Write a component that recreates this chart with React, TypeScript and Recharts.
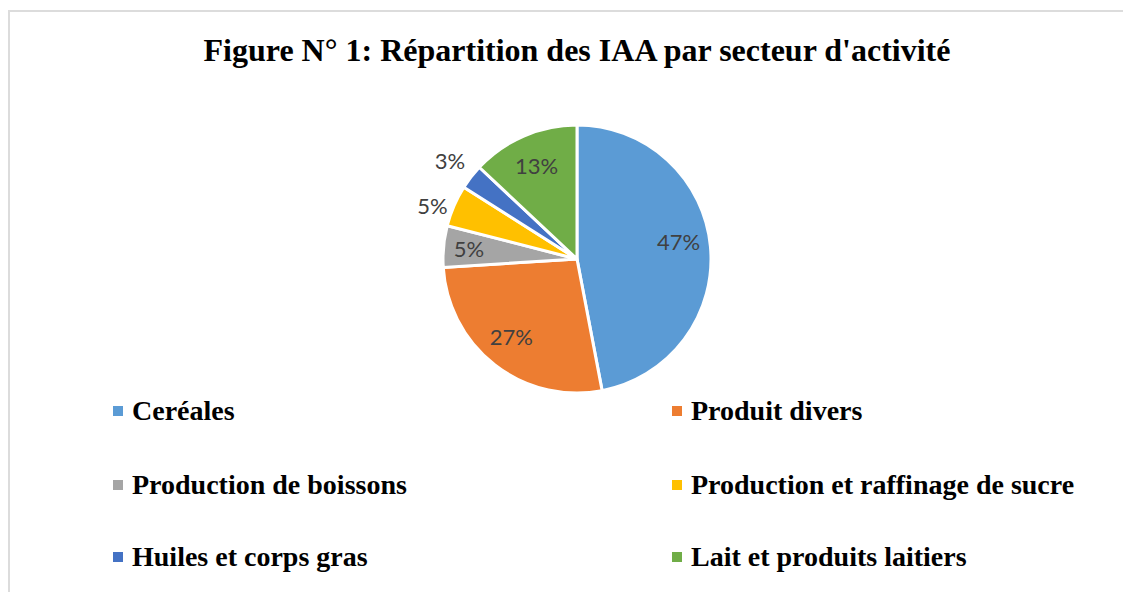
import React from "react";
import { Cell, Legend, Pie, PieChart } from "recharts";

const categories = [
  "Ceréales",
  "Produit divers",
  "Production de boissons",
  "Production et raffinage de sucre",
  "Huiles et corps gras",
  "Lait et produits laitiers",
];
const shares = [47, 27, 5, 5, 3, 13];
const colors = ["#5B9BD5", "#ED7D31", "#A5A5A5", "#FFC000", "#4472C4", "#70AD47"];
// where each percentage label sits: fraction of the radius, and a small turn off the slice middle (deg)
const labelRadius = [0.77, 0.76, 0.81, 1.15, 1.2, 0.76];
const labelTurn = [4.5, -2.4, 0, 3, 0, 0];

const data = categories.map((name, i) => ({ name, value: shares[i] }));

const RAD = Math.PI / 180;

const renderLabel = (props: any) => {
  const { cx, cy, midAngle, outerRadius, index, value } = props;
  const r = outerRadius * labelRadius[index];
  const a = midAngle + labelTurn[index];
  const x = cx + r * Math.cos(-a * RAD);
  const y = cy + r * Math.sin(-a * RAD);
  return (
    <text
      x={x}
      y={y}
      fill="#404040"
      fontSize={22}
      fontFamily="Lato, 'Open Sans', sans-serif"
      textAnchor="middle"
      dominantBaseline="central"
    >
      {`${value}%`}
    </text>
  );
};

const colX = [103, 662];
const rowY = [399, 473, 545];

const LegendContent = ({ payload }: any) => {
  if (!payload) return null;
  const items = [...payload].sort(
    (a: any, b: any) => categories.indexOf(a.value) - categories.indexOf(b.value)
  );
  return (
    <div style={{ position: "relative", width: 1121, height: 200 }}>
      {items.map((entry: any, i: number) => (
        <div
          key={entry.value}
          style={{
            position: "absolute",
            left: colX[i % 2],
            top: rowY[Math.floor(i / 2)] - 390 - 16,
            height: 32,
            display: "flex",
            alignItems: "center",
            whiteSpace: "nowrap",
          }}
        >
          <span
            style={{
              display: "inline-block",
              width: 10,
              height: 10,
              background: entry.color,
              marginRight: 9,
            }}
          />
          <span
            style={{
              fontFamily: "'Liberation Serif', 'Times New Roman', serif",
              fontWeight: "bold",
              fontSize: 28,
              color: "#000",
            }}
          >
            {entry.value}
          </span>
        </div>
      ))}
    </div>
  );
};

export default function App() {
  return (
    <div
      style={{
        marginTop: 2,
        width: 1121,
        height: 580,
        borderLeft: "2px solid #dcdcdc",
        borderTop: "2px solid #dcdcdc",
        position: "relative",
        background: "#fff",
      }}
    >
      <div
        style={{
          position: "absolute",
          left: 0,
          top: 18,
          width: 1134,
          textAlign: "center",
          fontFamily: "'Liberation Serif', 'Times New Roman', serif",
          fontWeight: "bold",
          fontSize: 32,
          lineHeight: "40px",
          color: "#000",
        }}
      >
        Figure N° 1: Répartition des IAA par secteur d'activité
      </div>
      <PieChart width={1121} height={580} style={{ position: "absolute", left: 0, top: 0 }}>
        <Pie
          data={data}
          dataKey="value"
          nameKey="name"
          cx={562}
          cy={242}
          outerRadius={134}
          startAngle={90}
          endAngle={-270}
          stroke="#fff"
          strokeWidth={3}
          label={renderLabel}
          labelLine={false}
          isAnimationActive={false}
        >
          {data.map((d, i) => (
            <Cell key={d.name} fill={colors[i]} />
          ))}
        </Pie>
        <Legend
          content={<LegendContent />}
          wrapperStyle={{ position: "absolute", left: 0, top: 390, width: 1121 }}
        />
      </PieChart>
    </div>
  );
}
